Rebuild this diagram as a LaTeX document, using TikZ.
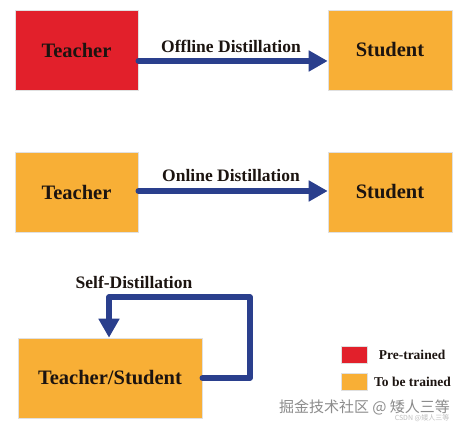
\documentclass[tikz,border=0pt]{standalone}
\usepackage{fontspec}
\setmainfont{Liberation Serif}
\newfontfamily\cjkfont{Noto Sans CJK SC}
\usetikzlibrary{arrows.meta}
\definecolor{redbox}{HTML}{E2202B}
\definecolor{orangebox}{HTML}{F8AF36}
\definecolor{arrowblue}{HTML}{2A3F8D}
\definecolor{txt}{HTML}{1C1410}
\tikzset{
  box/.style={rectangle, inner sep=0pt, text=txt, font=\bfseries\fontsize{20.5}{24}\selectfont,
    draw=black!12, line width=0.6pt},
  lbl/.style={text=txt, font=\bfseries\fontsize{17.5}{20}\selectfont, inner sep=0pt},
  leglbl/.style={text=txt, font=\bfseries\fontsize{13.5}{16}\selectfont, inner sep=0pt},
  flow/.style={draw=arrowblue, line width=5.5pt, line cap=round, line join=round,
    -{Triangle[length=19pt,width=20pt]}},
  legsq/.style={rectangle, inner sep=0pt, minimum width=26pt, minimum height=17pt, draw=black!12, line width=0.5pt},
}
\begin{document}
\begin{tikzpicture}[x=1pt,y=-1pt]
\useasboundingbox (0,0) rectangle (470,430);
\fill[white] (0,0) rectangle (470,430);
% top row
\node[box, fill=redbox, minimum width=123pt, minimum height=80pt] (t1) at (76.5,50) {Teacher};
\node[box, fill=orangebox, minimum width=124pt, minimum height=80pt] (s1) at (390,50) {Student};
\draw[flow] ([yshift=-11pt]t1.east) -- ([yshift=-11pt]s1.west);
\node[lbl] (l1) at (231,46) {Offline Distillation};
% middle row
\node[box, fill=orangebox, minimum width=123pt, minimum height=80pt] (t2) at (76.5,192) {Teacher};
\node[box, fill=orangebox, minimum width=124pt, minimum height=80pt] (s2) at (390,192) {Student};
\draw[flow] ([yshift=1pt]t2.east) -- ([yshift=1pt]s2.west);
\node[lbl] (l2) at (231,176) {Online Distillation};
% bottom
\node[box, fill=orangebox, minimum width=184pt, minimum height=80pt] (ts) at (110,378) {Teacher/Student};
\coordinate (c1) at (250,378);
\coordinate (c2) at (250,297);
\coordinate (c3) at (109,297);
\draw[flow] (ts.east) -- (c1) -- (c2) -- (c3) -- (c3 |- ts.north);
\node[lbl] (l3) at (134,282) {Self-Distillation};
% legend
\node[legsq, fill=redbox] (lr) at (354,354.5) {};
\node[legsq, fill=orangebox] (lo) at (354,381.5) {};
\node[leglbl] (lrt) at (412,355) {Pre-trained};
\node[leglbl] (lot) at (412.5,382) {To be trained};
% watermark
\node[text=black!45, font=\cjkfont\fontsize{15}{18}\selectfont, inner sep=0pt] (wm) at (364.5,407) {掘金技术社区 @ 矮人三等};
\node[text=black!25, font=\cjkfont\fontsize{7}{8}\selectfont, inner sep=0pt] (wm2) at (422,418) {CSDN @矮人三等};
\end{tikzpicture}
\end{document}
